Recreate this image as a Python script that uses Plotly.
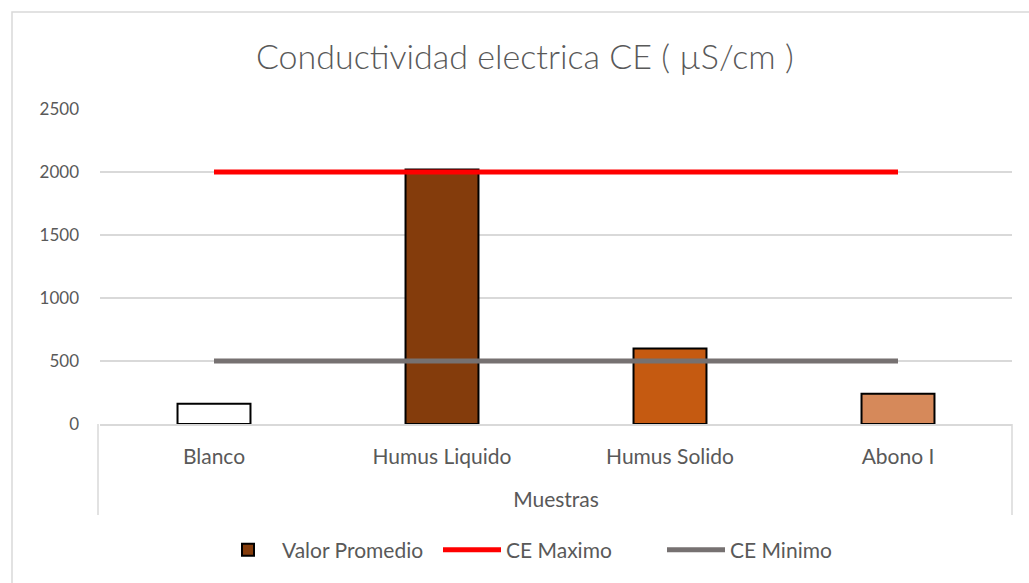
import plotly.graph_objects as go

# Sample categories and mean conductivity values (µS/cm)
categories = ["Blanco", "Humus Liquido", "Humus Solido", "Abono I"]
valor_promedio = [160, 2020, 600, 240]
bar_colors = ["#FFFFFF", "#843C0C", "#C55A11", "#D6895A"]
ce_maximo = [2000, 2000, 2000, 2000]
ce_minimo = [500, 500, 500, 500]
y_ticks = [0, 500, 1000, 1500, 2000, 2500]

FONT = "Lato"
TEXT = "#595959"
GRID = "#D9D9D9"

fig = go.Figure()

# One bar per sample so each gets its own fill; a single legend entry
for cat, val, col in zip(categories, valor_promedio, bar_colors):
    fig.add_trace(go.Bar(
        x=[cat], y=[val], name="Valor Promedio",
        marker=dict(color=col, line=dict(color="#000000", width=2)),
        width=0.32, offsetgroup="v", legendgroup="v",
        showlegend=(cat == "Humus Liquido"),
    ))

fig.add_trace(go.Scatter(
    x=categories, y=ce_maximo, name="CE Maximo", mode="lines",
    line=dict(color="#FF0000", width=5),
))
fig.add_trace(go.Scatter(
    x=categories, y=ce_minimo, name="CE Minimo", mode="lines",
    line=dict(color="#767171", width=5),
))

# Plot area spans x 100..1012 px, y 109..424 px
L, R, T, B = 100, 1012, 109, 424
W, H = 1029, 583
pw, ph = R - L, B - T

def px_x(px):
    return (px - L) / pw

def px_y(py):
    return (B - py) / ph

shapes = [
    # outer chart frame
    dict(type="rect", xref="paper", yref="paper",
         x0=px_x(12), x1=px_x(1040), y0=px_y(12), y1=px_y(600),
         line=dict(color=GRID, width=1.5), fillcolor="rgba(0,0,0,0)", layer="below"),
    # category axis side borders
    dict(type="line", xref="paper", yref="paper",
         x0=px_x(98), x1=px_x(98), y0=0, y1=px_y(515),
         line=dict(color=GRID, width=1.5)),
    dict(type="line", xref="paper", yref="paper",
         x0=px_x(1012), x1=px_x(1012), y0=0, y1=px_y(515),
         line=dict(color=GRID, width=1.5)),
]

fig.update_layout(
    width=W, height=H,
    margin=dict(l=L, r=W - R, t=T, b=H - B),
    paper_bgcolor="#FFFFFF", plot_bgcolor="#FFFFFF",
    font=dict(family=FONT, color=TEXT, size=16),
    title=dict(text="Conductividad electrica CE ( µS/cm )",
               x=0.51, xanchor="center", y=1 - 57 / H, yanchor="middle",
               yref="container",
               font=dict(family=FONT, size=34, color=TEXT, weight=300)),
    barmode="group",
    showlegend=True,
    legend=dict(orientation="h", x=px_x(214), xanchor="left",
                y=px_y(550), yanchor="middle",
                font=dict(family=FONT, size=21, color=TEXT),
                itemwidth=58, entrywidth=151, entrywidthmode="pixels",
                traceorder="normal"),
    shapes=shapes,
    xaxis=dict(
        title=dict(text="Muestras", font=dict(family=FONT, size=21, color=TEXT),
                   standoff=25),
        showgrid=False, showline=True, linecolor=GRID, linewidth=1.5,
        ticks="", tickfont=dict(family=FONT, size=21, color=TEXT),
        ticklabelstandoff=13,
    ),
    yaxis=dict(
        range=[0, 2500], tickvals=y_ticks, showgrid=True, gridcolor=GRID,
        gridwidth=1.5, zeroline=False, showline=False, ticks="",
        tickfont=dict(family=FONT, size=17, color=TEXT),
        ticklabelstandoff=20,
    ),
)

fig.write_html("out.html")
